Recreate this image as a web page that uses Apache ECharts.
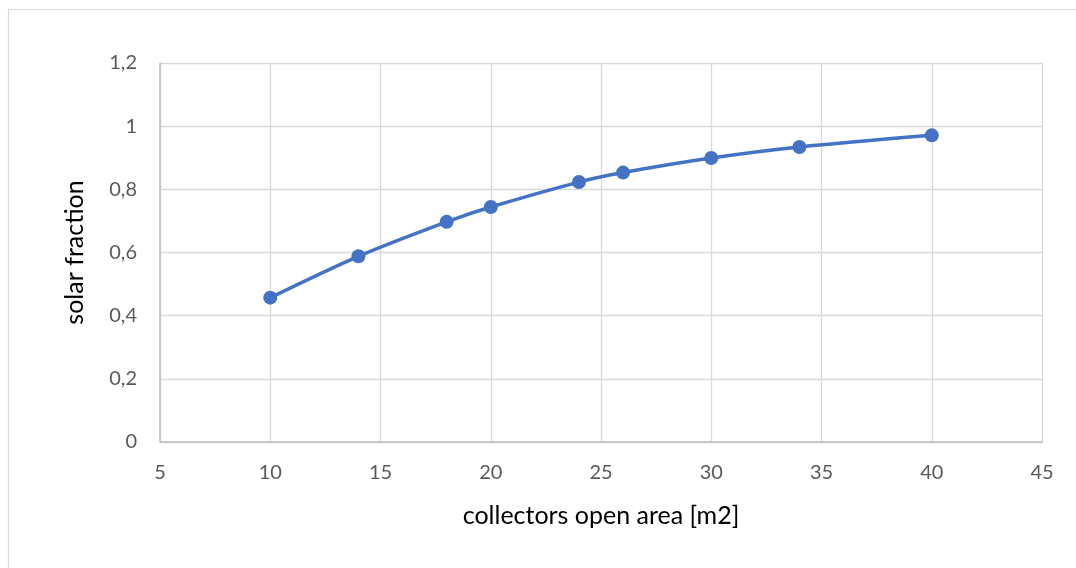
<!DOCTYPE html>
<html>
<head>
<meta charset="utf-8">
<script src="https://cdn.jsdelivr.net/npm/echarts@6/dist/echarts.min.js"></script>
<style>
  html, body { margin: 0; padding: 0; background: #ffffff; }
  #chart { width: 1076px; height: 568px; }
</style>
</head>
<body>
<div id="chart"></div>
<script>
// Collector open area [m2] and resulting solar fraction
const collectorArea = [10, 14, 18, 20, 24, 26, 30, 34, 40];
const solarFraction = [0.457, 0.588, 0.697, 0.744, 0.823, 0.853, 0.899, 0.934, 0.971];

const xTitle = 'collectors open area [m2]';
const yTitle = 'solar fraction';

const labelFont = 'Lato, "Open Sans", "Noto Sans", sans-serif';

const chart = echarts.init(document.getElementById('chart'), null, { renderer: 'canvas' });

chart.setOption({
  backgroundColor: '#ffffff',
  animation: false,
  // chart-area frame (continues past the right and bottom edges of the canvas)
  graphic: [{
    type: 'rect',
    shape: { x: 8.5, y: 9.5, width: 1100, height: 600 },
    style: { fill: 'none', stroke: '#d9d9d9', lineWidth: 1.2 },
    silent: true
  }],
  grid: { left: 160, right: 34, top: 63, bottom: 126 },
  xAxis: {
    type: 'value',
    min: 5, max: 45, interval: 5,
    name: xTitle,
    nameLocation: 'middle',
    nameGap: 61,
    nameTextStyle: { color: '#000000', fontSize: 25, fontFamily: labelFont },
    axisLine: { show: true, lineStyle: { color: '#bfbfbf', width: 1.5 } },
    axisTick: { show: false },
    axisLabel: { color: '#595959', fontSize: 20, fontFamily: labelFont, margin: 21 },
    splitLine: { show: true, lineStyle: { color: '#d9d9d9', width: 1.3 } }
  },
  yAxis: {
    type: 'value',
    min: 0, max: 1.2, interval: 0.2,
    name: yTitle,
    nameLocation: 'middle',
    nameGap: 73,
    nameTextStyle: { color: '#000000', fontSize: 25, fontFamily: labelFont },
    axisLine: { show: true, lineStyle: { color: '#bfbfbf', width: 1.5 } },
    axisTick: { show: false },
    axisLabel: {
      color: '#595959', fontSize: 20, fontFamily: labelFont, margin: 23,
      formatter: v => String(Math.round(v * 10) / 10).replace('.', ',')
    },
    splitLine: { show: true, lineStyle: { color: '#d9d9d9', width: 1.3 } }
  },
  series: [{
    type: 'line',
    data: collectorArea.map((x, i) => [x, solarFraction[i]]),
    smooth: 0.3,
    symbol: 'circle',
    symbolSize: 14,
    lineStyle: { color: '#4472c4', width: 3.5 },
    itemStyle: { color: '#4472c4' }
  }]
});
</script>
</body>
</html>
